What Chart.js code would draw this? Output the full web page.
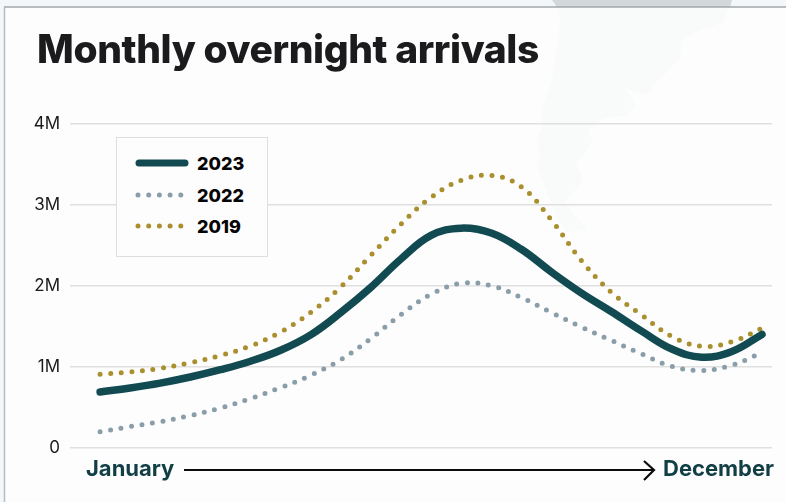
<!DOCTYPE html>
<html><head><meta charset="utf-8">
<script src="https://cdn.jsdelivr.net/npm/chart.js@4"></script>
<style>
html,body{margin:0;padding:0;width:786px;height:502px;overflow:hidden;background:#fdfdfe;font-family:Inter,sans-serif}
#bgmap{position:absolute;left:0;top:0}
#wrap{position:absolute;left:0;top:0;width:786px;height:502px}
#title{position:absolute;left:37px;top:25px;font-size:39px;font-weight:800;color:#1b1a1c;letter-spacing:-.4px;white-space:nowrap;line-height:47px}
#legend{position:absolute;left:116px;top:137px;width:150px;height:118px;border:1px solid #dedede;background:#fdfdfe;box-sizing:content-box}
.row{position:absolute;left:18px;height:24px;display:flex;align-items:center}
.row span{margin-left:8px;font-size:18px;font-weight:800;color:#050505}
.axl{position:absolute;top:455px;font-size:22px;font-weight:700;color:#123f46;line-height:27px;white-space:nowrap}
</style></head><body>
<svg id="bgmap" width="786" height="502">
<rect x="0" y="0" width="786" height="7" fill="#f3f7fa"/>
<rect x="0" y="0" width="4" height="502" fill="#f3f7fa"/>
<polygon fill="#f9fafa" points="558,7 560,23 552,80 542,107 542,127 537,140 540,157 537,167 555,213 566,232 587,230 565,203 583,180 575,163 583,157 587,147 593,142 588,130 603,118 628,115 635,105 625,88 645,95 660,78 667,72 680,57 682,40 700,30 722,23 730,7"/>
<polygon fill="#d3d8db" points="552,0 557,7 730,7 732,0"/>
<line x1="4" y1="7" x2="786" y2="7" stroke="#a3a7a8" stroke-width="1.5"/>
<line x1="4.5" y1="7" x2="4.5" y2="502" stroke="#b9bcbe" stroke-width="1.5"/>
</svg>
<div id="wrap"><canvas id="c" width="786" height="502"></canvas></div>
<div id="title">Monthly overnight arrivals</div>
<div id="legend"></div>
<div class="axl" id="startLabel" style="left:86px"></div>
<div class="axl" id="endLabel" style="left:663px"></div>
<svg style="position:absolute;left:0;top:0;pointer-events:none" width="786" height="502">
<line x1="184" y1="470" x2="654" y2="470" stroke="#0b0b0b" stroke-width="2.2"/>
<polyline points="644,461 654,470 644,480" fill="none" stroke="#0b0b0b" stroke-width="2.2"/>
</svg>
<script>
const axisLabels = ["January","December"];
const seriesNames = ["2023","2022","2019"];
// Readings taken every half month, January to December.
const monthPositions = [0,0.5,1,1.5,2,2.5,3,3.5,4,4.5,5,5.5,6,6.5,7,7.5,8,8.5,9,9.5,10,10.5,11];
const values2023 = [0.69,0.74,0.80,0.875,0.965,1.07,1.205,1.395,1.67,1.98,2.33,2.62,2.71,2.65,2.45,2.17,1.91,1.68,1.44,1.22,1.12,1.19,1.40];
const values2022 = [0.20,0.264,0.325,0.40,0.493,0.61,0.745,0.896,1.09,1.35,1.645,1.895,2.03,2.00,1.855,1.67,1.49,1.325,1.16,1.007,0.955,1.02,1.176];
const values2019 = [0.91,0.937,0.983,1.053,1.14,1.258,1.43,1.67,1.985,2.375,2.76,3.09,3.30,3.36,3.22,2.81,2.31,1.916,1.64,1.375,1.254,1.31,1.475];
const colors = ["#124a52","#8a9ea9","#a98f2e"];
const yTicks = {0:"0",1000000:"1M",2000000:"2M",3000000:"3M",4000000:"4M"};

document.getElementById('startLabel').textContent = axisLabels[0];
document.getElementById('endLabel').textContent = axisLabels[1];

const toPts = a => a.map((v,i)=>({x:monthPositions[i],y:v*1e6}));
const ds = [values2023,values2022,values2019].map((a,i)=>({
  label:seriesNames[i],data:toPts(a),borderColor:colors[i],
  borderWidth:i===0?7.5:5,borderCapStyle:'round',borderJoinStyle:'round',
  borderDash:i===0?[]:[0,10.6],tension:0.4,pointRadius:0,fill:false
}));

const lg = document.getElementById('legend');
seriesNames.forEach((n,i)=>{
  const r=document.createElement('div');r.className='row';
  r.style.top=[13,45,76][i]+'px';
  const dash=i===0?'':'stroke-dasharray="0 10.7"';
  r.innerHTML=`<svg width="54" height="10"><line x1="${i===0?4:3}" y1="5" x2="50" y2="5" stroke="${colors[i]}" stroke-width="${i===0?7:5}" stroke-linecap="round" ${dash}/></svg><span>${n}</span>`;
  lg.appendChild(r);
});

new Chart(document.getElementById('c'),{
  type:'line',
  data:{datasets:ds},
  options:{
    responsive:false,animation:false,events:[],
    layout:{padding:{top:123.5,bottom:54,left:0,right:14}},
    plugins:{legend:{display:false},tooltip:{enabled:false},title:{display:false}},
    scales:{
      x:{type:'linear',min:-0.5,max:11.166,display:false},
      y:{min:0,max:4000000,
        afterFit(s){s.width=70;},
        border:{display:false},
        grid:{color:'#e0e0e0',lineWidth:1.5,drawTicks:false},
        ticks:{stepSize:1000000,padding:10,color:'#1a1a1a',font:{family:'Inter',size:17},callback:v=>yTicks[v]}
      }
    }
  }
});
</script>
</body></html>
